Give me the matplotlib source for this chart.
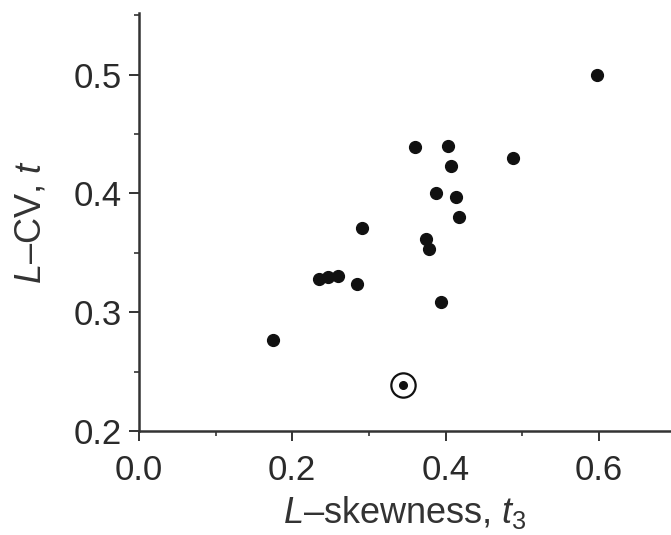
import matplotlib
matplotlib.use("Agg")
import matplotlib.pyplot as plt
from matplotlib.ticker import MultipleLocator

plt.rcParams["font.family"] = ["Liberation Sans", "DejaVu Sans"]
plt.rcParams["mathtext.fontset"] = "custom"
plt.rcParams["mathtext.rm"] = "Liberation Sans"
plt.rcParams["mathtext.it"] = "Liberation Sans:italic"

# L-moment ratios for each site
l_skewness = [0.360, 0.403, 0.407, 0.388, 0.413, 0.417, 0.291, 0.374, 0.379,
              0.235, 0.246, 0.260, 0.284, 0.394, 0.175, 0.598, 0.488]
l_cv = [0.439, 0.440, 0.423, 0.400, 0.397, 0.380, 0.371, 0.362, 0.353,
        0.328, 0.330, 0.331, 0.324, 0.309, 0.277, 0.500, 0.430]

# the highlighted site
site_skew = [0.345]
site_cv = [0.239]

fig = plt.figure(figsize=(6.71, 5.35), dpi=100)
ax = fig.add_axes([0.207, 0.194, 0.793, 0.782])

ax.plot(l_skewness, l_cv, "o", color="#111111", markersize=8.5, linestyle="none")
ax.plot(site_skew, site_cv, "o", color="#111111", markersize=5.5, linestyle="none")
ax.plot(site_skew, site_cv, "o", markerfacecolor="none", markeredgecolor="#111111",
        markeredgewidth=1.6, markersize=17.5, linestyle="none")

ax.set_xlim(0.0, 0.694)
ax.set_ylim(0.2, 0.552)
ax.xaxis.set_major_locator(MultipleLocator(0.2))
ax.xaxis.set_minor_locator(MultipleLocator(0.1))
ax.yaxis.set_major_locator(MultipleLocator(0.1))
ax.yaxis.set_minor_locator(MultipleLocator(0.05))
ax.xaxis.set_major_formatter(plt.FormatStrFormatter("%.1f"))
ax.yaxis.set_major_formatter(plt.FormatStrFormatter("%.1f"))

for side in ("top", "right"):
    ax.spines[side].set_visible(False)
for side in ("left", "bottom"):
    ax.spines[side].set_linewidth(1.8)
    ax.spines[side].set_color("#333333")

ax.tick_params(which="major", direction="out", length=7, width=1.4,
               labelsize=25, colors="#333333", labelcolor="#2a2a2a")
ax.tick_params(which="minor", direction="out", length=3.5, width=1.2, colors="#333333")
ax.tick_params(axis="x", which="major", pad=9.5)
ax.tick_params(axis="y", which="major", pad=5)

ax.set_xlabel(r"$L$–skewness, $t_3$", fontsize=26, color="#333333", labelpad=5)
ax.set_ylabel(r"$L$–CV, $t$", fontsize=26, color="#333333", labelpad=18)

fig.savefig("out.png", dpi=100)
